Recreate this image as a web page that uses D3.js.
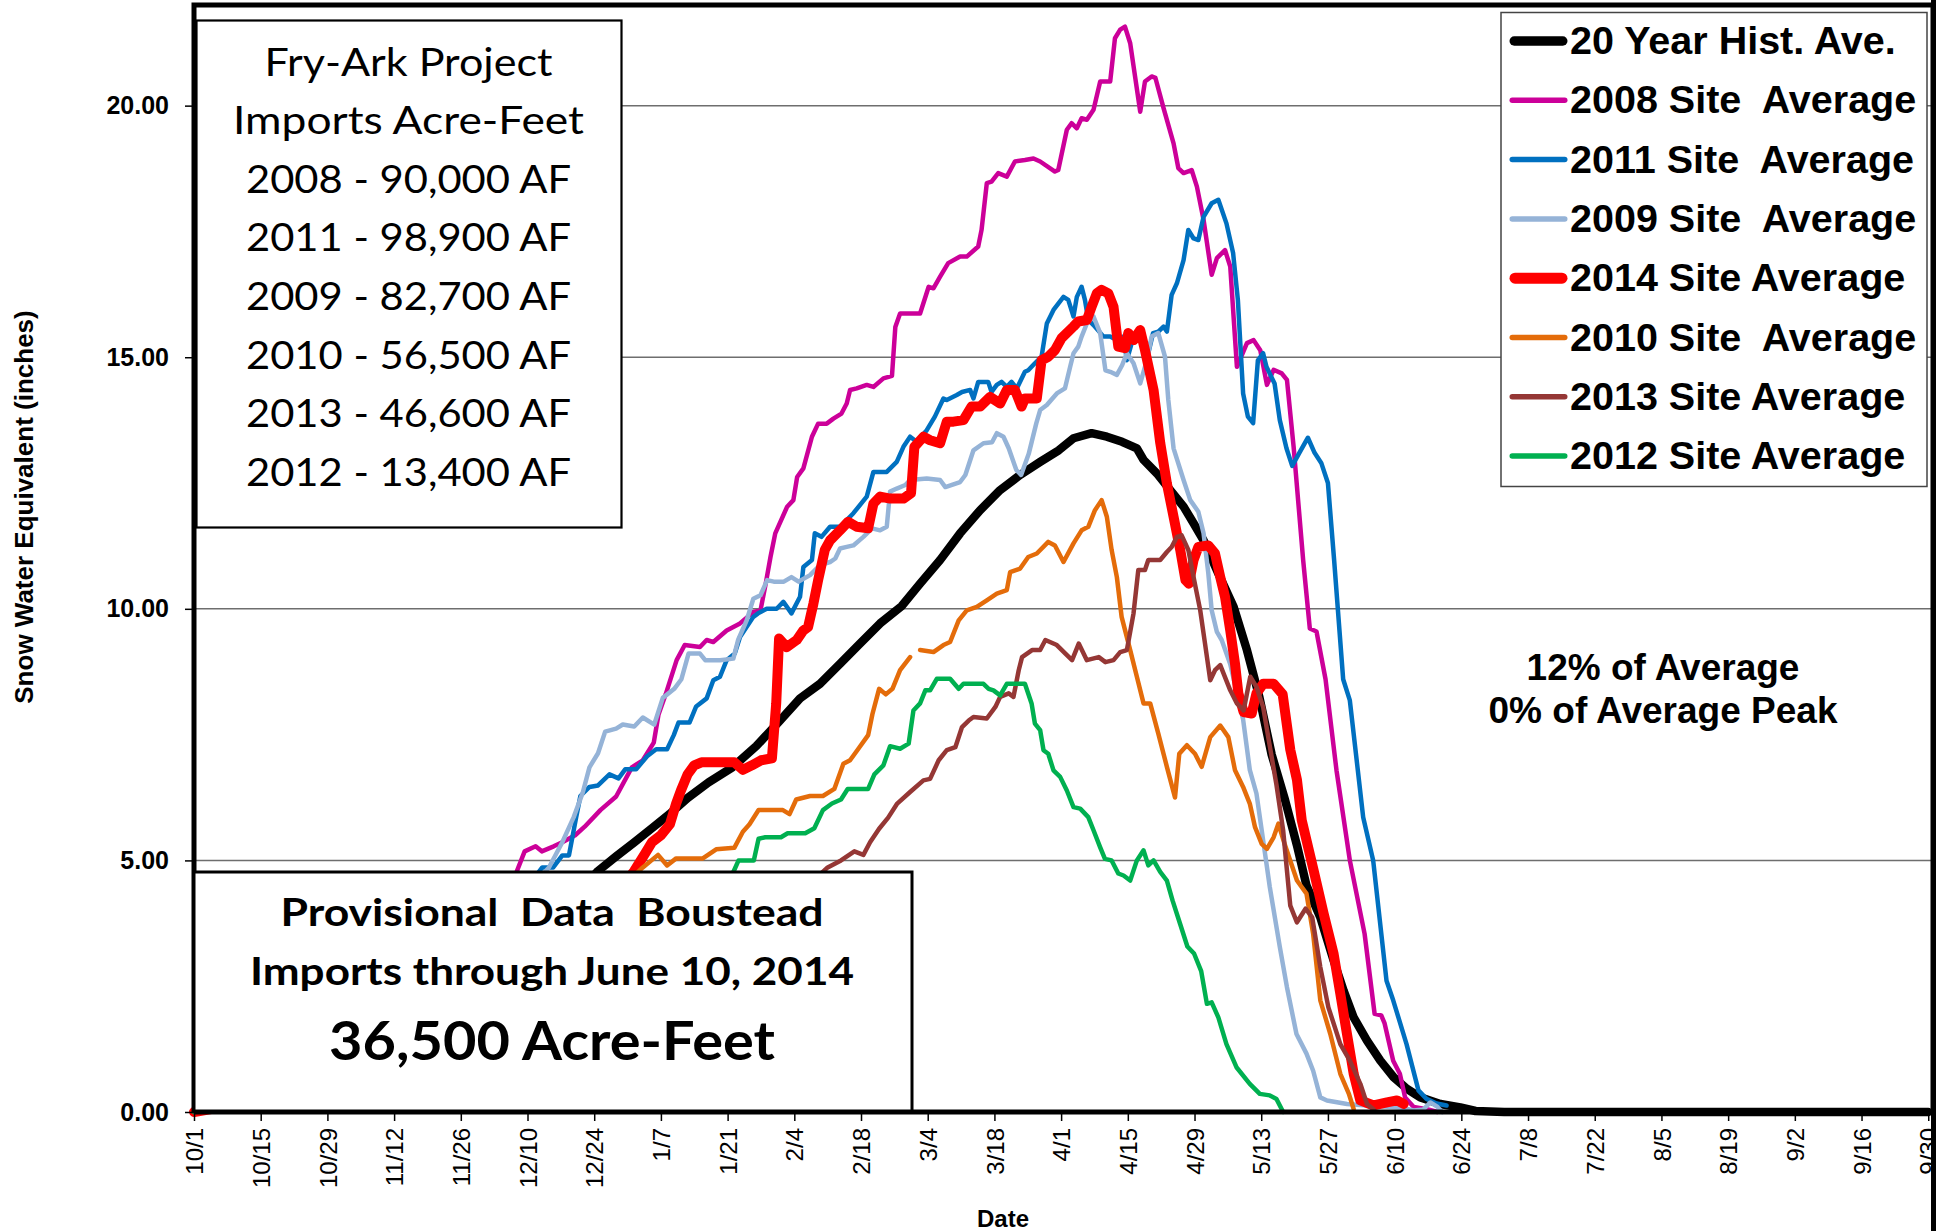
<html>
<head>
	<meta charset="utf-8">
	<title>Fry-Ark Snow Water Equivalent</title>
	<script src="https://d3js.org/d3.v7.min.js"></script>

	<style>
	body {
	  margin: 0;
	  background: #fff;
	}
	text {
	  font-family: "Liberation Sans", Arial, sans-serif;
	}
	.grid line {
	  stroke: #6e6e6e;
	  stroke-width: 1.5;
	}
	.swe {
	  fill: none;
	  stroke-linejoin: round;
	  stroke-linecap: round;
	}
	.calibri {
	  font-family: Lato, "Open Sans", sans-serif;
	  white-space: pre;
	}
	.legend text {
	  white-space: pre;
	}
	</style>
</head>
<body>
	<div id="chart"></div>

	<script>
		// x values are days since 10/1/2013, y values are inches of SWE
		var histAve = [[0,0],[14,0.3],[28,0.9],[42,1.6],[56,2.5],[70,3.5],[80,4.3],[84.8,4.79],[88.6,5.08],[92.4,5.36],[96.1,5.64],[99.8,5.92],[103.6,6.24],[108,6.55],[113,6.85],[118,7.27],[122.7,7.75],[127.2,8.22],[131.4,8.51],[135.6,8.91],[139.8,9.31],[144,9.71],[148.5,10.05],[152.4,10.5],[156.6,10.97],[160.8,11.5],[165,11.96],[169.2,12.36],[173.4,12.66],[177.6,12.92],[181.5,13.15],[184.6,13.39],[188.4,13.49],[191.6,13.42],[194.8,13.32],[197.9,13.19],[199.3,12.96],[202.1,12.69],[204.9,12.36],[207.7,12.03],[209.8,11.7],[211.9,11.36],[215,10.7],[218.2,10.04],[221,9.18],[223.6,8.25],[226.2,7.1],[229,6.2],[231.5,5.3],[233.5,4.5],[236.4,3.87],[239.2,3.01],[241.3,2.41],[243.4,1.88],[246.2,1.42],[249,1.02],[251.8,0.69],[254.6,0.46],[257.4,0.29],[261.6,0.16],[265.8,0.09],[269,0.02],[275,0],[364,0]];

		var swe2008 = [[0,0],[19,0.8],[35,1.9],[50,3.0],[61,3.9],[67,4.6],[69.4,5.18],[71.7,5.28],[73,5.18],[75.5,5.28],[77.3,5.36],[80,5.5],[82,5.67],[85.3,6.0],[88.6,6.27],[91.9,6.85],[94.2,6.99],[96.5,7.34],[97.5,7.9],[99,8.3],[101.3,8.98],[103,9.28],[106.2,9.24],[107.6,9.38],[109,9.34],[111.8,9.57],[114.6,9.71],[117.4,9.94],[118.9,9.97],[120,10.5],[121,11.03],[122,11.5],[124.5,12.03],[125.8,12.16],[126.6,12.62],[127.9,12.79],[129.7,13.42],[131,13.68],[132.8,13.68],[134.2,13.78],[135.9,13.88],[137,14.08],[137.7,14.35],[139.1,14.38],[141.2,14.45],[142.6,14.41],[144.7,14.58],[146.5,14.63],[147.2,15.6],[148.2,15.87],[152.4,15.87],[154.2,16.4],[155.2,16.37],[156.6,16.6],[158.3,16.87],[160.8,17.0],[162.2,17.0],[164.6,17.2],[165.3,17.53],[166.4,18.46],[167.4,18.49],[168.8,18.66],[170.6,18.59],[172.3,18.89],[174.4,18.92],[176.2,18.95],[177.6,18.89],[180.7,18.69],[181.4,18.72],[183.2,19.52],[184.2,19.65],[185.3,19.55],[186.3,19.75],[187.4,19.72],[188.8,19.92],[190.2,20.48],[192.3,20.48],[193.3,21.34],[194.4,21.51],[195.4,21.57],[196.5,21.24],[198.6,19.88],[199.6,20.48],[201,20.58],[201.8,20.55],[203.5,19.95],[205.6,19.25],[206.6,18.76],[207.7,18.66],[209.4,18.72],[210.5,18.39],[211.9,17.73],[213.6,16.64],[214.7,16.97],[216.4,17.13],[217.5,16.8],[218.9,14.81],[221,15.28],[222.4,15.34],[223.8,15.14],[225.2,14.45],[226.6,14.75],[228.3,14.68],[229.4,14.55],[230.8,13.22],[232.8,10.97],[234.2,9.61],[235.6,9.55],[237.5,8.6],[239.8,6.79],[242.6,5.0],[245.7,3.54],[247.8,1.95],[249.2,1.92],[249.9,1.76],[251.7,1.02],[253.1,0.76],[254.2,0.29],[256,0.1],[259,0.05],[261,0]];

		var swe2011 = [[0,0],[30,1.0],[50,2.5],[62,3.8],[71,4.6],[73.1,4.86],[75.4,4.86],[77.3,5.1],[78.7,5.1],[80.2,5.85],[81.1,6.28],[83,6.46],[84.8,6.49],[87.2,6.71],[89.1,6.63],[90.5,6.81],[92.8,6.81],[95.1,7.07],[97,7.21],[99.3,7.21],[100.7,7.49],[101.7,7.74],[104,7.74],[105.4,8.06],[107.6,8.22],[109,8.58],[110.4,8.65],[111.8,8.98],[113.5,9.11],[114.6,9.44],[117.4,9.84],[118.4,9.91],[120.2,10.0],[122.3,10.0],[123.7,10.14],[125.4,9.91],[127.2,10.24],[127.9,10.83],[129.7,10.97],[130.3,11.5],[131.7,11.43],[133.5,11.63],[135.6,11.63],[138.4,11.9],[141.2,12.23],[142.6,12.72],[145.4,12.72],[147.5,12.92],[148.9,13.22],[150.3,13.42],[151.7,13.32],[153.8,13.55],[155.5,13.82],[157.3,14.18],[158,14.15],[160.1,14.25],[161.2,14.31],[162.9,14.35],[163.6,14.18],[164.6,14.51],[166.7,14.51],[167.4,14.31],[168.5,14.45],[169.5,14.51],[170.6,14.41],[171.6,14.51],[172.7,14.38],[174.4,14.71],[175.1,14.74],[176.5,14.88],[177.9,15.01],[179,15.67],[180.4,15.94],[182.5,16.2],[183.5,16.14],[184.6,15.81],[185.3,16.2],[186.3,16.4],[187,16.14],[187.7,15.74],[188.8,15.64],[190.9,15.41],[192.3,15.41],[193.7,15.34],[195.1,15.41],[195.8,14.94],[197.2,15.41],[198.6,15.41],[200.3,15.08],[201.3,15.48],[202.4,15.51],[203.5,15.61],[204.2,15.51],[205.2,16.24],[206.3,16.47],[207.7,16.93],[208.7,17.53],[209.8,17.36],[210.8,17.33],[211.9,17.79],[213.6,18.06],[215,18.13],[216.7,17.66],[218.1,17.07],[219.1,16.14],[220.2,14.28],[221.2,13.82],[222.3,13.69],[223.3,14.94],[224.4,15.08],[225.1,14.81],[226.8,14.48],[227.9,13.75],[229.3,13.19],[230.5,12.84],[232,13.1],[233.8,13.4],[235.2,13.1],[236.6,12.9],[238,12.5],[239.3,10.97],[241.2,8.6],[242.6,8.18],[245.4,5.86],[247.5,5.0],[250.3,2.61],[251.7,2.22],[254.5,1.35],[257,0.43],[258.7,0.26],[260.8,0.17],[262.9,0.13]];

		var swe2009 = [[0,0],[30,1.0],[50,2.5],[62,3.8],[72,4.6],[74.5,4.86],[77.3,5.36],[79.7,5.86],[81.6,6.35],[83,6.85],[84.8,7.13],[86.3,7.56],[88.6,7.62],[90,7.7],[92.4,7.66],[94.2,7.84],[96.6,7.7],[98.4,8.23],[100.8,8.41],[102.3,8.6],[103.8,9.11],[106.2,9.11],[107.3,8.98],[110.4,8.98],[113.2,9.01],[114.2,9.38],[116,9.77],[117.4,10.2],[118.9,10.27],[120.3,10.57],[121.7,10.54],[123.8,10.54],[125.4,10.63],[126.9,10.54],[129.3,10.67],[131.4,10.87],[133.5,10.93],[134.6,11.0],[135.6,11.2],[137,11.23],[138.4,11.26],[140.5,11.43],[142.3,11.6],[144,11.56],[145.4,11.63],[146.1,12.33],[147.5,12.39],[149.3,12.46],[150.3,12.56],[153.8,12.59],[156.6,12.56],[157.7,12.42],[160.8,12.52],[161.9,12.66],[163.6,13.15],[165.7,13.29],[167.5,13.31],[168.5,13.49],[169.9,13.42],[171,13.19],[172.6,12.76],[173.6,12.66],[175.2,13.08],[176.8,13.69],[177.6,13.95],[179,14.05],[181.1,14.28],[182.8,14.38],[183.9,14.81],[184.6,15.08],[185.6,15.21],[186.3,15.41],[187.4,15.67],[188.8,15.81],[190.2,15.48],[191.3,14.74],[192.3,14.71],[193.7,14.65],[194.8,14.84],[195.8,15.08],[197.2,14.88],[198.6,14.48],[200,14.94],[201,15.41],[202.4,15.48],[203.8,15.01],[204.5,14.15],[205.6,13.19],[207.7,12.56],[209.1,12.16],[210.8,11.93],[211.9,11.5],[212.9,10.7],[213.6,9.97],[214.7,9.54],[215.7,9.38],[217.5,8.9],[220.2,7.8],[221.6,6.8],[223,6.33],[224.4,5.4],[225.8,4.47],[227.9,3.28],[229.4,2.48],[231.4,1.55],[233.5,1.16],[234.9,0.82],[236.4,0.29],[237.8,0.23],[242,0.16],[246.2,0.13],[253.2,0.09],[256,0.03],[258,0.05],[259.5,0.19],[261,0.1],[262,0]];

		var swe2014 = [[0,0],[30,0.5],[50,1.5],[65,2.8],[80,3.8],[90,4.5],[92.4,4.79],[94.7,5.14],[96.1,5.36],[98,5.5],[99.9,5.72],[101.2,6.13],[102.2,6.39],[103.6,6.71],[105,6.89],[106.5,6.95],[108.6,6.95],[113.4,6.95],[115.2,6.8],[117.1,6.89],[119,6.99],[121.3,7.03],[122.2,8.12],[122.8,9.41],[124.4,9.24],[126.5,9.38],[127.9,9.57],[128.9,9.64],[130,10.1],[131,10.57],[132.4,11.17],[133.5,11.36],[135.6,11.56],[137.3,11.73],[139.1,11.63],[141.5,11.6],[142.6,12.09],[144,12.23],[146.1,12.19],[148.9,12.19],[150.5,12.3],[151.2,13.22],[153.1,13.42],[154.5,13.35],[156.6,13.29],[158,13.72],[159.4,13.72],[161.5,13.75],[163.2,14.02],[165,14.02],[167.1,14.21],[169.2,14.08],[170.6,14.35],[172.3,14.35],[173.7,14.02],[174.4,14.18],[176.9,14.18],[177.9,14.94],[179.3,15.01],[180.7,15.14],[182.1,15.38],[184.6,15.61],[185.6,15.71],[187.4,15.74],[188.4,16.0],[189.5,16.27],[190.5,16.34],[191.9,16.27],[193,16.0],[194,15.21],[195.4,15.18],[196.1,15.48],[197.2,15.34],[198.6,15.54],[199.6,15.14],[201.4,14.35],[202.8,13.3],[204.2,12.49],[205.6,11.83],[207,11.17],[208.1,10.57],[208.8,10.5],[209.8,10.97],[210.8,11.23],[212.9,11.26],[214.3,11.1],[215.4,10.63],[216.4,10.24],[217.5,9.57],[218.5,8.91],[219.2,8.32],[220.3,7.95],[222,7.92],[223,8.32],[224.4,8.51],[226.6,8.51],[228.5,8.3],[230.1,7.2],[231.5,6.6],[232.5,5.8],[235,4.8],[237.1,3.94],[239.2,3.14],[240.6,2.35],[242,1.55],[243.4,0.76],[244.8,0.23],[247.6,0.13],[250.4,0.19],[252.5,0.23],[253.9,0.16]];

		// null marks the short break in the 2010 record
		var swe2010 = [[0,0],[40,0.5],[60,1.5],[75,3.0],[88,4.3],[94.2,4.86],[97.4,5.11],[99.3,4.9],[101.2,5.04],[106.8,5.04],[109.6,5.22],[113.4,5.25],[115.2,5.57],[116.6,5.72],[118.5,6.0],[123.6,6.0],[125,5.92],[126.4,6.21],[129.3,6.28],[132,6.28],[134.4,6.42],[136.3,6.92],[137.7,6.99],[139.6,7.24],[141.5,7.49],[142.4,7.91],[143.8,8.41],[145.2,8.3],[146.6,8.41],[148.2,8.78],[150.3,9.04],[151.3,null],[152.4,9.18],[155.2,9.14],[157.3,9.28],[158.7,9.34],[160.5,9.77],[162.2,9.97],[164.3,10.04],[166.4,10.17],[168.5,10.3],[170.6,10.37],[171.3,10.73],[173.4,10.8],[175.1,11.03],[176.9,11.1],[179.3,11.33],[180.7,11.26],[182.5,10.93],[184.6,11.3],[186.3,11.56],[187.7,11.63],[189.1,11.96],[190.5,12.16],[191.6,11.83],[192.6,11.17],[193.7,10.63],[194.7,9.84],[196.5,9.18],[197.9,8.65],[199.3,8.12],[200.7,8.12],[202.4,7.52],[204.2,6.86],[205.9,6.25],[206.8,7.12],[208.4,7.29],[210.1,7.12],[211.5,6.86],[213.3,7.45],[215.4,7.68],[217.1,7.45],[218.5,6.79],[220.2,6.46],[221.6,6.13],[222.7,5.66],[224.1,5.33],[225.2,5.23],[226.6,5.46],[227.6,5.73],[229,5.3],[231.5,4.6],[233.5,4.34],[234.9,3.54],[236.4,2.22],[238.5,1.55],[240.6,0.76],[242.4,0.36],[243.4,0.06]];

		var swe2013 = [[0,0],[40,0.2],[60,1.0],[85,2.2],[105,3.2],[120,4.0],[130,4.6],[133,4.86],[135.8,5.0],[138.6,5.18],[140.5,5.11],[141.9,5.36],[143.8,5.63],[145.7,5.85],[147.6,6.13],[150.3,6.36],[153.1,6.59],[154.5,6.62],[156.3,6.99],[158,7.19],[159.8,7.25],[161.2,7.65],[162.6,7.78],[163.6,7.85],[166.4,7.82],[168.2,8.05],[169.2,8.25],[171,8.32],[172,8.25],[173.1,8.78],[173.8,9.04],[175.9,9.18],[177.6,9.18],[178.7,9.38],[181.1,9.28],[182.9,9.11],[184.3,8.98],[185.7,9.31],[187.4,8.98],[189.9,9.04],[191.3,8.94],[193,8.98],[194.4,9.14],[195.8,9.18],[197.2,9.91],[198.2,10.77],[199.6,10.77],[200.3,10.97],[202.8,10.97],[204.2,11.13],[205.2,11.23],[206.3,11.43],[207.3,11.46],[208.7,11.17],[209.8,10.63],[211.2,9.97],[212.2,9.31],[213.3,8.58],[214.3,8.78],[215.4,8.88],[217.5,8.38],[218.9,8.12],[220.3,7.98],[221.7,8.65],[223,8.45],[224.4,8.05],[225.6,7.38],[227.2,6.5],[228.6,5.6],[230.1,4.1],[231.5,3.77],[233.3,4.04],[234.7,3.87],[236.4,2.88],[238.1,2.08],[240.6,1.35],[242.6,1.02],[244.8,0.56],[246.2,0.16],[247.6,0.05]];

		var swe2012 = [[0,0],[30,0.3],[55,1.2],[80,2.5],[100,3.8],[112,4.6],[113.3,4.79],[114.3,5.0],[117.5,5.0],[118.5,5.43],[119.9,5.46],[123.2,5.46],[124.6,5.54],[128.3,5.54],[130.2,5.64],[132,6.0],[133.9,6.13],[135.8,6.21],[137.2,6.42],[141.5,6.42],[142.8,6.71],[144.7,6.89],[146.1,7.27],[148.2,7.22],[150,7.32],[151,7.98],[152.4,8.12],[153.5,8.38],[154.5,8.38],[155.9,8.61],[158.7,8.61],[160.5,8.41],[161.5,8.51],[165.7,8.51],[166.8,8.41],[167.8,8.38],[169.2,8.28],[170.6,8.51],[174.4,8.51],[175.8,8.12],[176.5,7.72],[177.6,7.59],[178.3,7.19],[179.3,7.12],[180.4,6.79],[181.8,6.66],[183.2,6.39],[184.6,6.06],[186,6.03],[187.7,5.86],[188.8,5.6],[190.2,5.26],[191.2,5.03],[192.6,5.0],[194,4.74],[195.1,4.7],[196.5,4.6],[197.9,5.0],[199.3,5.2],[200.3,4.9],[201.4,5.0],[202.8,4.77],[204.2,4.6],[205.4,4.2],[207,3.73],[208.5,3.29],[209.9,3.15],[211.4,2.8],[212.6,2.15],[213.6,2.18],[215,1.88],[216.7,1.35],[218.8,0.89],[221.6,0.56],[223.7,0.36],[225.8,0.33],[227.2,0.26],[228.6,0]];

		var seriesNames = ["20 Year Hist. Ave.", "2008 Site  Average", "2011 Site  Average", "2009 Site  Average", "2014 Site Average", "2010 Site  Average", "2013 Site Average", "2012 Site Average"];
		var seriesData = [histAve, swe2008, swe2011, swe2009, swe2014, swe2010, swe2013, swe2012];
		var seriesColors = ["#000000", "#CC0099", "#0070C0", "#95B3D7", "#FF0000", "#E46C0A", "#953735", "#00B050"];
		var seriesWidths = [8.5, 4.5, 4.5, 4.5, 10, 4.5, 4.5, 4.5];

		var tickLabels = ["10/1", "10/15", "10/29", "11/12", "11/26", "12/10", "12/24", "1/7", "1/21", "2/4", "2/18", "3/4", "3/18", "4/1", "4/15", "4/29", "5/13", "5/27", "6/10", "6/24", "7/8", "7/22", "8/5", "8/19", "9/2", "9/16", "9/30"];
		var yTicks = [0, 5, 10, 15, 20];

		var importLines = ["Fry-Ark Project", "Imports Acre-Feet", "2008 - 90,000 AF", "2011 - 98,900 AF", "2009 - 82,700 AF", "2010 - 56,500 AF", "2013 - 46,600 AF", "2012 - 13,400 AF"];
		var provisionalLines = ["Provisional  Data  Boustead", "Imports through June 10, 2014", "36,500 Acre-Feet"];
		var noteLines = ["12% of Average", "0% of Average Peak"];

		// svg and margins
		var svg = d3.select("#chart")
			.append("svg")
			.attr("width", 1946)
			.attr("height", 1231),
		    margin = {top: 5, right: 13, bottom: 120, left: 194},
		    width = +svg.attr("width") - margin.left - margin.right,
		    height = +svg.attr("height") - margin.top - margin.bottom;

		var start = new Date(Date.UTC(2013, 9, 1));
		function dayToDate(d) {
		  return new Date(start.getTime() + d * 864e5);
		}
		function labelToDate(s) {
		  var p = s.split("/");
		  var m = +p[0];
		  return new Date(Date.UTC(m >= 10 ? 2013 : 2014, m - 1, +p[1]));
		}

		var x = d3.scaleUtc()
		    .domain([start, new Date(Date.UTC(2014, 9, 1))])
		    .range([0, width]);
		var y = d3.scaleLinear().domain([0, 22]).range([height + 1, 0]);

		var g = svg.append("g")
		    .attr("transform", "translate(" + margin.left + "," + margin.top + ")");

		// gridlines
		g.append("g")
		    .attr("class", "grid")
		  .selectAll("line")
		  .data(yTicks.filter(function(d) { return d > 0; }))
		  .enter().append("line")
		    .attr("x1", 0)
		    .attr("x2", width)
		    .attr("y1", function(d) { return y(d); })
		    .attr("y2", function(d) { return y(d); });

		// series lines, drawn in legend order
		var line = d3.line()
		    .defined(function(d) { return d[1] != null; })
		    .x(function(d) { return x(dayToDate(d[0])); })
		    .y(function(d) { return y(d[1]); });

		g.selectAll(".swe")
		  .data(seriesData)
		  .enter().append("path")
		    .attr("class", "swe")
		    .attr("stroke", function(d, i) { return seriesColors[i]; })
		    .attr("stroke-width", function(d, i) { return seriesWidths[i]; })
		    .attr("d", line);

		// imports box (top left)
		var box1 = svg.append("g");
		box1.append("rect")
		    .attr("x", 196.5).attr("y", 20.5)
		    .attr("width", 425).attr("height", 507)
		    .attr("fill", "#fff").attr("stroke", "#000").attr("stroke-width", 2.2);
		var box1Len = [288, 351, 325, 325, 325, 325, 325, 325];
		box1.selectAll("text")
		  .data(importLines)
		  .enter().append("text")
		    .attr("class", "calibri")
		    .attr("x", 408.5)
		    .attr("y", function(d, i) { return 75.5 + i * 58.6; })
		    .attr("text-anchor", "middle")
		    .attr("textLength", function(d, i) { return box1Len[i]; })
		    .attr("lengthAdjust", "spacingAndGlyphs")
		    .style("font-size", "39px")
		    .text(function(d) { return d; });

		// provisional data box (bottom left)
		var box2 = svg.append("g");
		box2.append("rect")
		    .attr("x", 194).attr("y", 872)
		    .attr("width", 718).attr("height", 239)
		    .attr("fill", "#fff").attr("stroke", "#000").attr("stroke-width", 3);
		var box2Len = [543, 604, 446];
		var box2Y = [926, 985, 1060];
		var box2Size = [38, 38, 54];
		box2.selectAll("text")
		  .data(provisionalLines)
		  .enter().append("text")
		    .attr("class", "calibri")
		    .attr("x", 552)
		    .attr("y", function(d, i) { return box2Y[i]; })
		    .attr("text-anchor", "middle")
		    .attr("textLength", function(d, i) { return box2Len[i]; })
		    .attr("lengthAdjust", "spacingAndGlyphs")
		    .style("font-weight", "bold")
		    .style("font-size", function(d, i) { return box2Size[i] + "px"; })
		    .text(function(d) { return d; });

		// legend
		var legend = svg.append("g").attr("class", "legend");
		legend.append("rect")
		    .attr("x", 1501).attr("y", 12.5)
		    .attr("width", 426).attr("height", 474)
		    .attr("fill", "#fff").attr("stroke", "#444").attr("stroke-width", 1.5);
		var item = legend.selectAll(".item")
		  .data(seriesNames)
		  .enter().append("g")
		    .attr("class", "item")
		    .attr("transform", function(d, i) { return "translate(0," + (54 + i * 59.3) + ")"; });
		item.append("line")
		    .attr("x1", function(d, i) { return 1510 + seriesWidths[i] / 2; })
		    .attr("x2", function(d, i) { return 1567 - seriesWidths[i] / 2; })
		    .attr("y1", -13).attr("y2", -13)
		    .attr("stroke", function(d, i) { return seriesColors[i]; })
		    .attr("stroke-width", function(d, i) { return seriesWidths[i] + 1; })
		    .attr("stroke-linecap", "round");
		item.append("text")
		    .attr("x", 1570)
		    .style("font-size", "39.5px")
		    .style("font-weight", "bold")
		    .text(function(d) { return d; });

		// percent of average note
		svg.selectAll(".note")
		  .data(noteLines)
		  .enter().append("text")
		    .attr("class", "note")
		    .attr("x", 1663)
		    .attr("y", function(d, i) { return 679.5 + i * 43; })
		    .attr("text-anchor", "middle")
		    .style("font-size", "37px")
		    .style("font-weight", "bold")
		    .text(function(d) { return d; });

		// x axis
		var xAxis = g.append("g")
		    .attr("transform", "translate(0," + (height + 1) + ")")
		    .call(d3.axisBottom(x)
		      .tickValues(tickLabels.map(labelToDate))
		      .tickFormat(d3.utcFormat("%-m/%-d"))
		      .tickSize(9));
		xAxis.select(".domain").remove();
		xAxis.selectAll("line").attr("stroke-width", 1.5);
		xAxis.selectAll("text")
		    .attr("y", 0)
		    .attr("x", -16)
		    .attr("dy", "0.36em")
		    .attr("transform", "rotate(-90)")
		    .style("text-anchor", "end")
		    .style("font-size", "24px")
		    .style("font-family", "'Liberation Sans', Arial, sans-serif");

		// y axis
		var yAxis = g.append("g")
		    .call(d3.axisLeft(y)
		      .tickValues(yTicks)
		      .tickFormat(d3.format(".2f"))
		      .tickSize(9)
		      .tickPadding(16));
		yAxis.select(".domain").remove();
		yAxis.selectAll("line").attr("stroke-width", 1.5);
		yAxis.selectAll("text")
		    .style("font-size", "25px")
		    .style("font-weight", "bold")
		    .style("font-family", "'Liberation Sans', Arial, sans-serif");

		// plot frame
		g.append("path")
		    .attr("d", "M0," + (height + 1) + "V0H" + width + "V" + (height + 1) + "H0")
		    .attr("fill", "none")
		    .attr("stroke", "#000")
		    .attr("stroke-width", 5);

		// right edge of the chart object clips the last label
		svg.append("rect")
		    .attr("x", 1936).attr("y", 0)
		    .attr("width", 10).attr("height", 1231)
		    .attr("fill", "#fff");
		svg.append("line")
		    .attr("x1", 1933.5).attr("x2", 1933.5)
		    .attr("y1", 0).attr("y2", 1231)
		    .attr("stroke", "#000").attr("stroke-width", 5);

		// axis titles
		svg.append("text")
		    .attr("transform", "translate(33,507) rotate(-90)")
		    .attr("text-anchor", "middle")
		    .style("font-size", "26px")
		    .style("font-weight", "bold")
		    .text("Snow Water Equivalent (inches)");
		svg.append("text")
		    .attr("x", 1003)
		    .attr("y", 1227)
		    .attr("text-anchor", "middle")
		    .style("font-size", "24px")
		    .style("font-weight", "bold")
		    .text("Date");
	</script>
</body>
</html>
